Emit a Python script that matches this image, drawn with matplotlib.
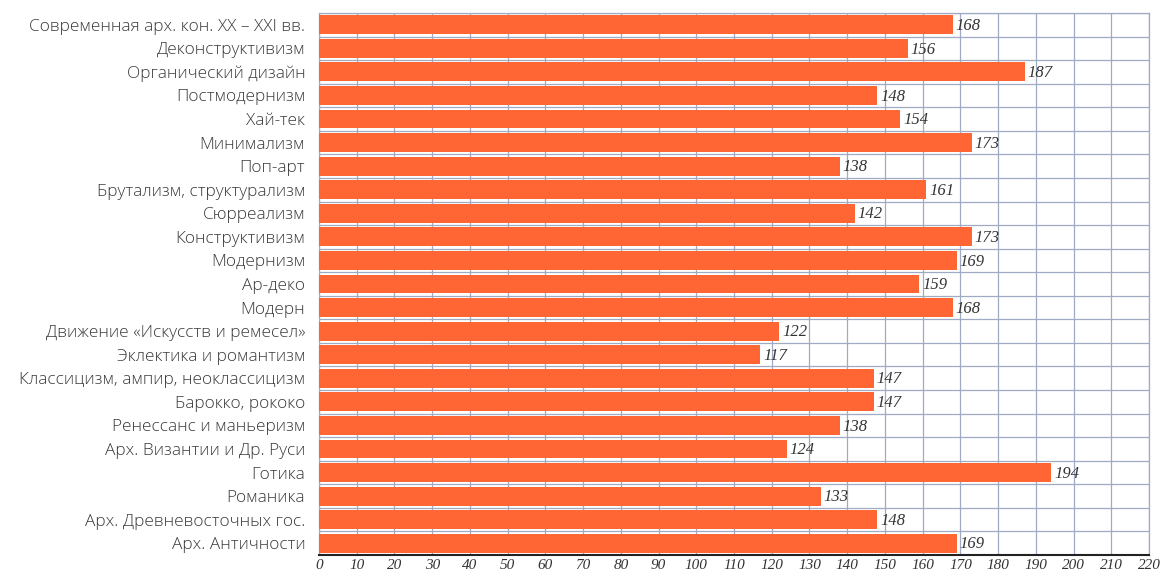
import matplotlib
matplotlib.use('Agg')
from matplotlib import pyplot as plt
import numpy as np

styles = [
    'Современная арх. кон. XX – XXI вв.',
    'Деконструктивизм',
    'Органический дизайн',
    'Постмодернизм',
    'Хай-тек',
    'Минимализм',
    'Поп-арт',
    'Брутализм, структурализм',
    'Сюрреализм',
    'Конструктивизм',
    'Модернизм',
    'Ар-деко',
    'Модерн',
    'Движение «Искусств и ремесел»',
    'Эклектика и романтизм',
    'Классицизм, ампир, неоклассицизм',
    'Барокко, рококо',
    'Ренессанс и маньеризм',
    'Арх. Византии и Др. Руси',
    'Готика',
    'Романика',
    'Арх. Древневосточных гос.',
    'Арх. Античности',
]
counts = [168, 156, 187, 148, 154, 173, 138, 161, 142, 173, 169, 159, 168,
          122, 117, 147, 147, 138, 124, 194, 133, 148, 169]
x_ticks = list(range(0, 221, 10))

BAR_COLOR = '#ff6633'
GRID_COLOR = '#9fabc2'

fig = plt.figure(figsize=(11.61, 5.72), dpi=100)
ax = fig.add_axes([0.2748, 0.0297, 0.7149, 0.9476])

y = np.arange(len(styles))[::-1]
ax.barh(y, counts, height=0.8, color=BAR_COLOR, zorder=3)

for yi, v in zip(y, counts):
    ax.text(v + 0.8, yi - 0.05, str(v), va='center', ha='left',
            family='Liberation Serif', style='italic', fontsize=12,
            color='#333333', zorder=4)

ax.set_xlim(0, 220)
ax.set_ylim(-0.5, len(styles) - 0.5)
ax.set_xticks(x_ticks)
ax.set_xticklabels([str(t) for t in x_ticks], family='Liberation Serif',
                   style='italic', fontsize=11, color='#333333')
ax.set_yticks(y)
ax.set_yticklabels(styles, family='Open Sans', fontsize=12.4,
                   color='#3a3a3a', fontweight='light')
ax.set_yticks(np.arange(len(styles) + 1) - 0.5, minor=True)

ax.grid(axis='x', color=GRID_COLOR, linewidth=0.9, zorder=0)
ax.grid(axis='y', which='minor', color=GRID_COLOR, linewidth=0.9, zorder=0)
ax.tick_params(axis='both', which='both', length=0)
ax.tick_params(axis='y', pad=10)
ax.tick_params(axis='x', pad=3)

for side in ['top', 'right', 'left']:
    ax.spines[side].set_color(GRID_COLOR)
    ax.spines[side].set_linewidth(0.9)
ax.spines['bottom'].set_color('#222222')
ax.spines['bottom'].set_linewidth(1.5)

plt.savefig('out.png', dpi=100)
